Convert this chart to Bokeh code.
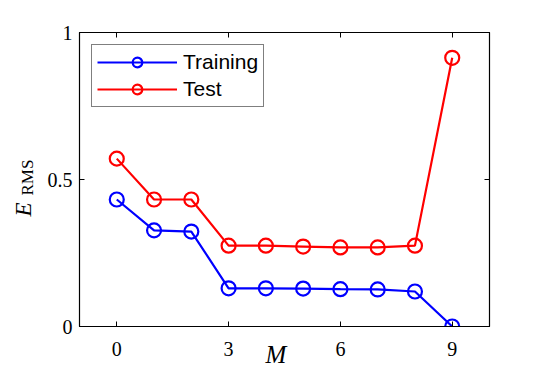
import math
from bokeh.plotting import figure
from bokeh.models import LinearAxis, FixedTicker, Range1d, Label, Legend, LegendItem
from bokeh.embed import file_html
from bokeh.resources import INLINE

M = [0, 1, 2, 3, 4, 5, 6, 7, 8, 9]
training = [0.432, 0.327, 0.323, 0.130, 0.130, 0.129, 0.127, 0.126, 0.119, 0.0]
test = [0.571, 0.432, 0.432, 0.275, 0.275, 0.272, 0.269, 0.269, 0.275, 0.914]
x_ticks = [0, 3, 6, 9]
y_ticks = [0, 0.5, 1]
y_tick_labels = {0: "0", 0.5: "0.5", 1: "1"}

X0, X1, Y0, Y1 = -1, 10, 0, 1
FW, FH = 410, 294

p = figure(width=552, height=371, output_backend="svg", toolbar_location=None,
           x_range=Range1d(X0, X1), y_range=Range1d(Y0, Y1),
           x_axis_location=None, y_axis_location=None,
           min_border_left=79, min_border_right=63, min_border_top=32, min_border_bottom=45)
p.xgrid.visible = False
p.ygrid.visible = False
p.outline_line_color = "black"
p.outline_line_width = 1.2
p.background_fill_color = "white"
p.border_fill_color = "white"

def style_axis(ax, ticks, show_labels, overrides=None):
    ax.ticker = FixedTicker(ticks=ticks)
    ax.major_tick_in = 5
    ax.major_tick_out = 0
    ax.minor_tick_in = 0
    ax.minor_tick_out = 0
    ax.axis_line_color = "black"
    ax.major_tick_line_color = "black"
    ax.major_label_text_font = "Liberation Serif"
    ax.major_label_text_font_size = "20px"
    ax.major_label_text_color = "black" if show_labels else None
    if overrides:
        ax.major_label_overrides = overrides

xb = LinearAxis(); style_axis(xb, x_ticks, True); xb.major_label_standoff = 15
xa = LinearAxis(); style_axis(xa, x_ticks, False)
yl = LinearAxis(); style_axis(yl, y_ticks, True, y_tick_labels); yl.major_label_standoff = 7
yr = LinearAxis(); style_axis(yr, y_ticks, False)
p.add_layout(xb, "below")
p.add_layout(xa, "above")
p.add_layout(yl, "left")
p.add_layout(yr, "right")

l1 = p.line(M, training, line_color="#0000ff", line_width=2.2)
c1 = p.scatter(M, training, marker="circle", size=14, line_color="#0000ff", line_width=2.2, fill_color=None)
l2 = p.line(M, test, line_color="#ff0000", line_width=2.2)
c2 = p.scatter(M, test, marker="circle", size=14, line_color="#ff0000", line_width=2.2, fill_color=None)

legend = Legend(items=[LegendItem(label="Training", renderers=[l1, c1]),
                       LegendItem(label="Test", renderers=[l2, c2])],
                location="top_left", margin=12, padding=5, spacing=3,
                glyph_width=80, glyph_height=24, label_height=24, label_standoff=6,
                label_text_font="Liberation Sans", label_text_font_size="21px",
                label_text_color="black",
                border_line_color="black", border_line_width=1,
                background_fill_color="white", background_fill_alpha=1)
p.add_layout(legend, "center")

def dx(px):
    return X0 + px * (X1 - X0) / FW

def dy(px):
    return Y0 + px * (Y1 - Y0) / FH

lab_m = Label(x=dx(186), y=dy(-27.5), text="M", text_color="black",
              text_font="Liberation Serif", text_font_style="italic",
              text_font_size="25px", text_baseline="middle", text_align="left")
lab_e = Label(x=dx(-56.5), y=dy(110), text="E", text_color="black",
              angle=math.pi / 2, text_font="Liberation Serif", text_font_style="italic",
              text_font_size="23px", text_baseline="middle", text_align="left")
lab_r = Label(x=dx(-52), y=dy(131), text="RMS", text_color="black",
              angle=math.pi / 2, text_font="Liberation Serif",
              text_font_size="17px", text_baseline="middle", text_align="left")
p.add_layout(lab_m, "right")
p.add_layout(lab_e, "left")
p.add_layout(lab_r, "left")

open("out.html", "w").write(file_html(p, INLINE))
